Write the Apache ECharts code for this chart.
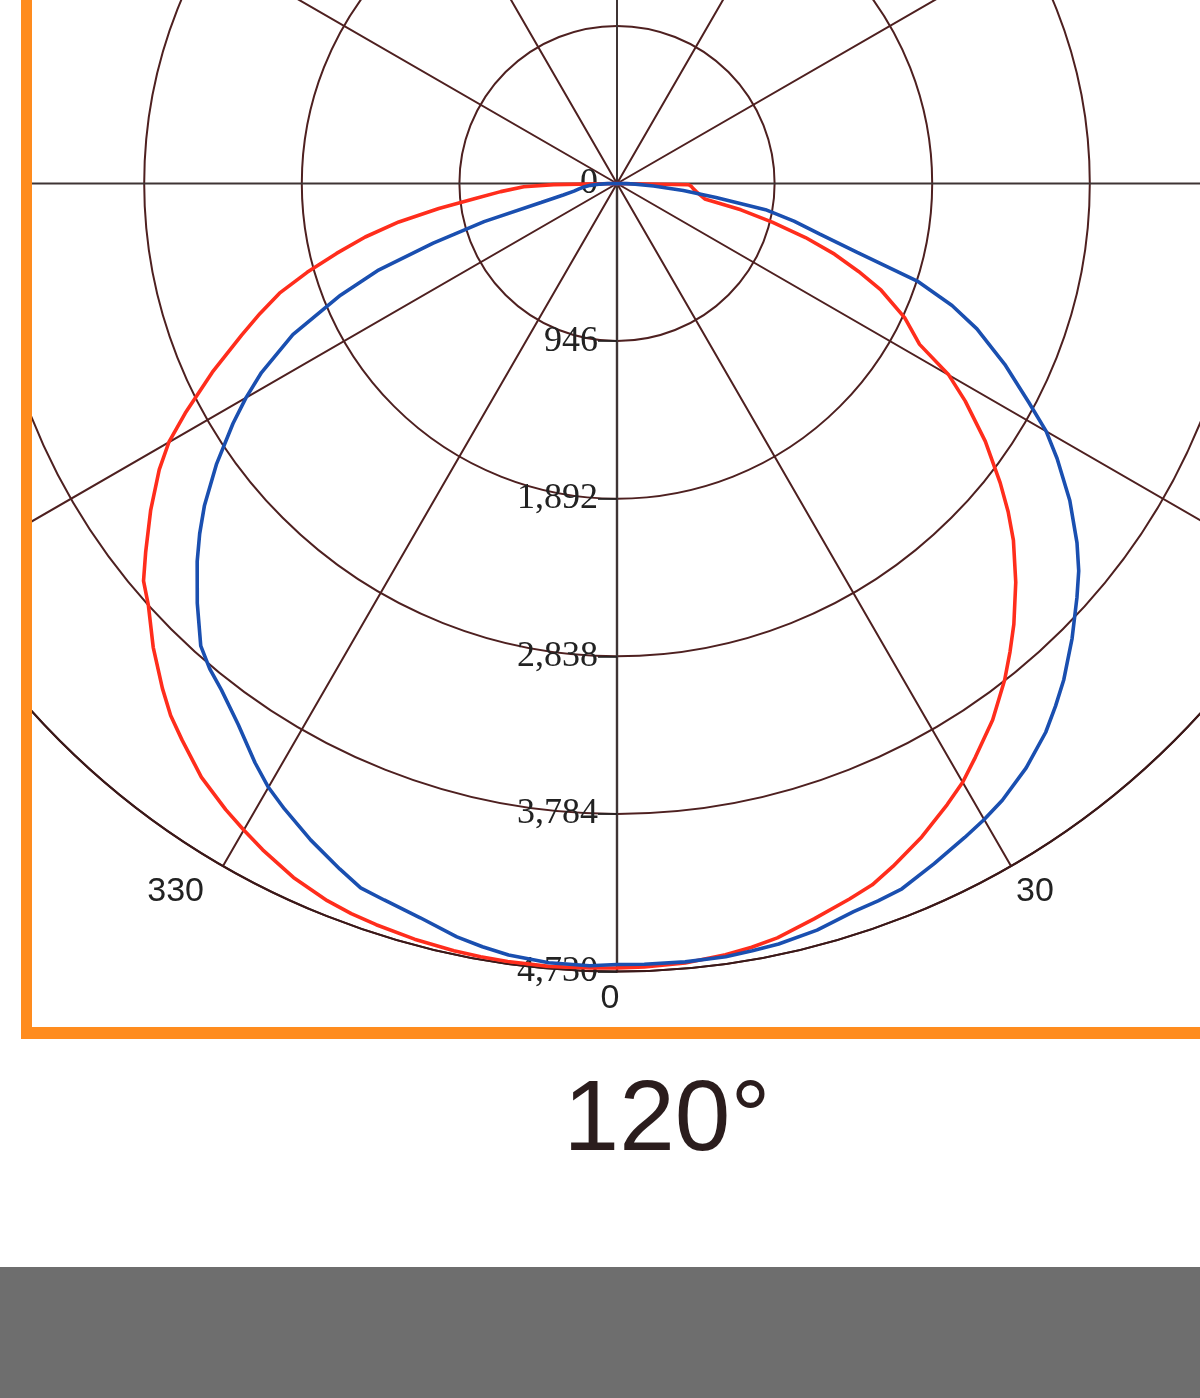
<!DOCTYPE html>
<html>
<head>
<meta charset="utf-8">
<title>120°</title>
<script src="https://cdn.jsdelivr.net/npm/echarts@6/dist/echarts.min.js"></script>
<style>
  html, body { margin: 0; padding: 0; background: #fff; }
  #main { width: 1200px; height: 1398px; }
</style>
</head>
<body>
<div id="main"></div>
<script>
// angles in degrees, 0 = straight down, negative = left half (shown as 270..360)
var angles = [-90, -89, -88, -86, -84, -82, -80, -78, -76, -74, -72, -70, -68, -65, -62, -60, -58, -55, -52, -50,
  -48, -45, -42, -40, -38, -35, -32, -30, -28, -25, -22, -20, -18, -15, -12, -10, -8, -5, -2,
  0, 2, 5, 8, 10, 12, 15, 18, 20, 22, 25, 28, 30, 32, 35, 38, 40, 42, 45, 48, 50,
  52, 55, 58, 60, 62, 65, 68, 70, 72, 74, 76, 78, 80, 82, 84, 86, 88, 89, 90];

// red curve (cd)
var redValues = [0, 380, 560, 700, 850, 1080, 1330, 1545, 1735, 1935, 2130, 2280, 2430, 2680, 2935, 3106, 3240, 3417, 3590, 3710,
  3785, 3937, 4078, 4168, 4240, 4350, 4432, 4481, 4530, 4596, 4643, 4664, 4678, 4696, 4708, 4713, 4716, 4717, 4712,
  4708, 4705, 4697, 4675, 4655, 4629, 4570, 4516, 4480, 4421, 4328, 4222, 4150, 4060, 3931, 3780, 3670, 3560, 3385, 3202, 3065,
  2919, 2699, 2465, 2300, 2057, 1905, 1710, 1543, 1373, 1177, 960, 760, 535, 505, 480, 460, 445, 430, 0];

// blue curve (cd)
var blueValues = [0, 55, 100, 160, 200, 230, 262, 330, 470, 830, 1160, 1530, 1790, 2147, 2417, 2571, 2718, 2934, 3143, 3270,
  3391, 3563, 3734, 3803, 3857, 3964, 4100, 4185, 4252, 4349, 4439, 4499, 4522, 4563, 4623, 4652, 4676, 4695, 4698,
  4688, 4689, 4690, 4687, 4677, 4667, 4640, 4596, 4582, 4566, 4505, 4446, 4408, 4365, 4282, 4180, 4095, 4008, 3863, 3715, 3618,
  3504, 3318, 3115, 2975, 2800, 2568, 2330, 2140, 1895, 1500, 1255, 1086, 905, 600, 400, 220, 110, 55, 0];

var radiusLabels = ['0', '946', '1,892', '2,838', '3,784', '4,730'];
var angleLabels = ['0', '30', '60', '90', '120', '150', '180', '210', '240', '270', '300', '330'];
var titleText = '120°';

init();
function init() {
  var chart = echarts.init(document.getElementById('main'));
  chart.setOption(buildOption());
}

function toPolar(values) {
  var list = [];
  for (var i = 0; i < angles.length; i++) {
    var a = angles[i] < 0 ? angles[i] + 360 : angles[i];
    list.push([values[i], a]);
  }
  return list;
}

function buildOption() {
  var grid = '#4e2020';
  var axisGray = '#3f3434';
  return {
    animation: false,
    backgroundColor: '#fff',
    polar: {
      center: [617, 183.5],
      radius: 788
    },
    angleAxis: {
      type: 'value',
      min: 0,
      max: 360,
      interval: 30,
      startAngle: 270,
      clockwise: false,
      axisLine: { show: true, lineStyle: { color: '#3a1818', width: 2 } },
      axisTick: { show: false },
      axisLabel: {
        margin: 10,
        padding: [0, 14, 0, 0],
        color: '#222',
        fontFamily: 'Liberation Sans',
        fontSize: 34,
        formatter: function (v) { return angleLabels[Math.round(v / 30) % 12]; }
      },
      splitLine: {
        show: true,
        lineStyle: { color: [axisGray, grid, grid], width: 2 }
      }
    },
    radiusAxis: {
      type: 'value',
      min: 0,
      max: 4730,
      interval: 946,
      axisLine: { show: true, lineStyle: { color: axisGray, width: 2.4 } },
      // labels and ticks sit on the left of the downward axis
      axisTick: { show: true, length: -19, lineStyle: { color: '#222', width: 1.6 } },
      axisLabel: {
        margin: -19,
        align: 'right',
        padding: [8, 0, 0, 0],
        color: '#222',
        fontFamily: 'Liberation Serif',
        fontSize: 36,
        formatter: function (v) { return radiusLabels[Math.round(v / 946)]; }
      },
      splitLine: { show: true, lineStyle: { color: grid, width: 2 } }
    },
    series: [
      {
        name: 'red',
        type: 'line',
        coordinateSystem: 'polar',
        showSymbol: false,
        lineStyle: { color: '#ff2d1c', width: 3.6 },
        data: toPolar(redValues)
      },
      {
        name: 'blue',
        type: 'line',
        coordinateSystem: 'polar',
        showSymbol: false,
        lineStyle: { color: '#1a4fb0', width: 3.6 },
        data: toPolar(blueValues)
      }
    ],
    graphic: [
      // cover whatever spills left of the frame
      { type: 'rect', z: 100, shape: { x: 0, y: 0, width: 21, height: 1398 }, style: { fill: '#fff' } },
      { type: 'rect', z: 100, shape: { x: 0, y: 1039, width: 1200, height: 359 }, style: { fill: '#fff' } },
      // orange frame
      { type: 'rect', z: 101, shape: { x: 21, y: 0, width: 11, height: 1039 }, style: { fill: '#ff8c1e' } },
      { type: 'rect', z: 101, shape: { x: 21, y: 1027, width: 1179, height: 12 }, style: { fill: '#ff8c1e' } },
      {
        type: 'text', z: 101, x: 667, y: 1172,
        style: {
          text: titleText, fill: '#2b1d1d', font: '100px "Liberation Sans"',
          textAlign: 'center', textVerticalAlign: 'bottom'
        }
      },
      { type: 'rect', z: 101, shape: { x: 0, y: 1267, width: 1200, height: 131 }, style: { fill: '#6e6e6e' } }
    ]
  };
}
</script>
</body>
</html>
